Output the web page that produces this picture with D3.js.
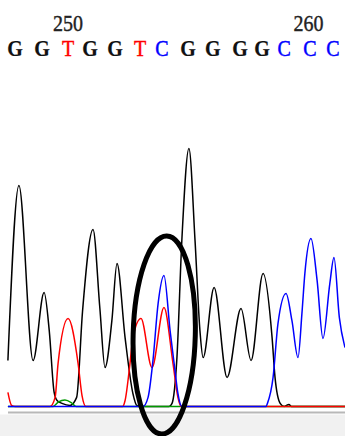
<!DOCTYPE html>
<html>
<head>
<meta charset="utf-8">
<script src="https://cdn.jsdelivr.net/npm/d3@7"></script>
<style>
  html, body { margin: 0; padding: 0; background: #ffffff; }
  svg { display: block; }
</style>
</head>
<body>
<div id="chart"></div>
<script>
// ---- Data ----
// Called bases and their positions (in base-number units)
const bases = ["G","G","T","G","G","T","C","G","G","G","G","C","C","C"];
const basePos = [248.0, 249.1, 250.17, 251.07, 252.09, 253.11, 254.01, 255.07, 256.09, 257.2, 258.1, 259.0, 260.06, 261.0];
// Position ruler labels
const tickLabels = ["250", "260"];
const tickPos = [250.17, 260.0];

// Trace knots: [position, signal]
const traceG = [
  [247.71,177],[248.16,850],[248.74,177],[249.19,438],[249.4,292],[249.6,54],[249.72,23],
  [249.92,12],[250.25,4],[250.52,35],[250.76,365],[251.19,681],[251.47,377],[251.68,150],
  [251.96,330],[252.17,550],[252.5,265],[252.82,50],[252.98,4],[253.2,0],[254.3,0],
  [254.42,12],[254.62,188],[254.82,638],[255.11,992],[255.36,638],[255.56,292],[255.69,188],
  [256.14,458],[256.67,112],[257.24,377],[257.65,177],[258.14,512],[258.51,265],[258.63,112],
  [258.84,12],[259.0,0],[259.2,8],[259.3,0],[261.49,0]
];
const traceA = [
  [247.71,0],[249.55,0],[249.78,18],[250.04,25],[250.3,15],[250.5,0],[261.49,0]
];
const traceT = [
  [247.71,54],[247.86,4],[248.0,0],[249.43,0],[249.64,35],[249.76,165],[250.17,338],
  [250.58,165],[250.74,42],[250.9,0],[252.4,0],[252.5,23],[252.7,165],[252.82,265],
  [253.15,338],[253.6,150],[254.09,381],[254.46,165],[254.66,35],[254.79,0],[261.49,0]
];
const traceC = [
  [247.71,0],[253.23,0],[253.44,35],[253.64,177],[253.85,396],[254.09,504],[254.34,292],
  [254.54,138],[254.66,50],[254.83,0],[258.26,0],[258.32,12],[258.55,112],[258.75,319],
  [259.08,435],[259.32,331],[259.57,188],[259.73,358],[259.85,512],[260.1,646],[260.35,485],
  [260.59,262],[260.87,473],[261.04,573],[261.26,342],[261.49,227]
];

// Ellipse highlighting the double peak (position center, signal center, half-width in bases, half-height in signal)
const highlight = { pos: 254.1, signal: 275, halfBases: 1.27, halfSignal: 381 };

// ---- Drawing ----
const W = 345, H = 436;
const svg = d3.select("#chart").append("svg").attr("width", W).attr("height", H);

const x = d3.scaleLinear().domain([248, 261]).range([15, 333]);
const y = d3.scaleLinear().domain([0, 1000]).range([406.5, 146.5]);

// bottom panel
svg.append("rect").attr("x", 0).attr("y", 414.5).attr("width", W).attr("height", H - 414.5).attr("fill", "#f1f1f1");
svg.append("line").attr("x1", 8).attr("x2", W).attr("y1", 412.5).attr("y2", 412.5)
  .attr("stroke", "#b8b8b8").attr("stroke-width", 2);

// ruler labels
svg.selectAll("text.tick").data(tickLabels).join("text")
  .attr("class", "tick")
  .attr("transform", (d, i) => `translate(${x(tickPos[i])},30.5) scale(1,1.15)`)
  .attr("text-anchor", "middle")
  .attr("font-family", "'Liberation Serif', 'Times New Roman', serif")
  .attr("font-size", 20)
  .attr("fill", "#222")
  .attr("stroke", "#222")
  .attr("stroke-width", 0.35)
  .text(d => d);

const baseColor = { G: "#111111", T: "#ff0000", C: "#0000ff", A: "#009900" };
svg.selectAll("text.base").data(bases).join("text")
  .attr("class", "base")
  .attr("transform", (d, i) => `translate(${x(basePos[i])},55.5) scale(1,1.15)`)
  .attr("text-anchor", "middle")
  .attr("font-family", "'Liberation Serif', 'Times New Roman', serif")
  .attr("font-size", 20)
  .attr("font-weight", d => d === "G" ? "bold" : "normal")
  .attr("fill", d => baseColor[d])
  .attr("stroke", d => baseColor[d])
  .attr("stroke-width", d => d === "G" ? 0.2 : 0.4)
  .text(d => d);

const line = d3.line().x(d => x(d[0])).y(d => y(d[1])).curve(d3.curveMonotoneX);

const traces = [
  { data: traceG, color: "#000000" },
  { data: traceA, color: "#009900" },
  { data: traceT, color: "#ff0000" },
  { data: traceC, color: "#0000ff" }
];
svg.selectAll("path.trace").data(traces).join("path")
  .attr("class", "trace")
  .attr("d", d => line(d.data))
  .attr("fill", "none")
  .attr("stroke", d => d.color)
  .attr("stroke-width", 1.5);

// highlight ellipse
const cx = x(highlight.pos), cy = y(highlight.signal);
svg.append("ellipse")
  .attr("cx", cx).attr("cy", cy)
  .attr("rx", x(highlight.pos + highlight.halfBases) - cx)
  .attr("ry", cy - y(highlight.signal + highlight.halfSignal))
  .attr("transform", `rotate(1.5 ${cx} ${cy})`)
  .attr("fill", "none")
  .attr("stroke", "#000")
  .attr("stroke-width", 5);
</script>
</body>
</html>
